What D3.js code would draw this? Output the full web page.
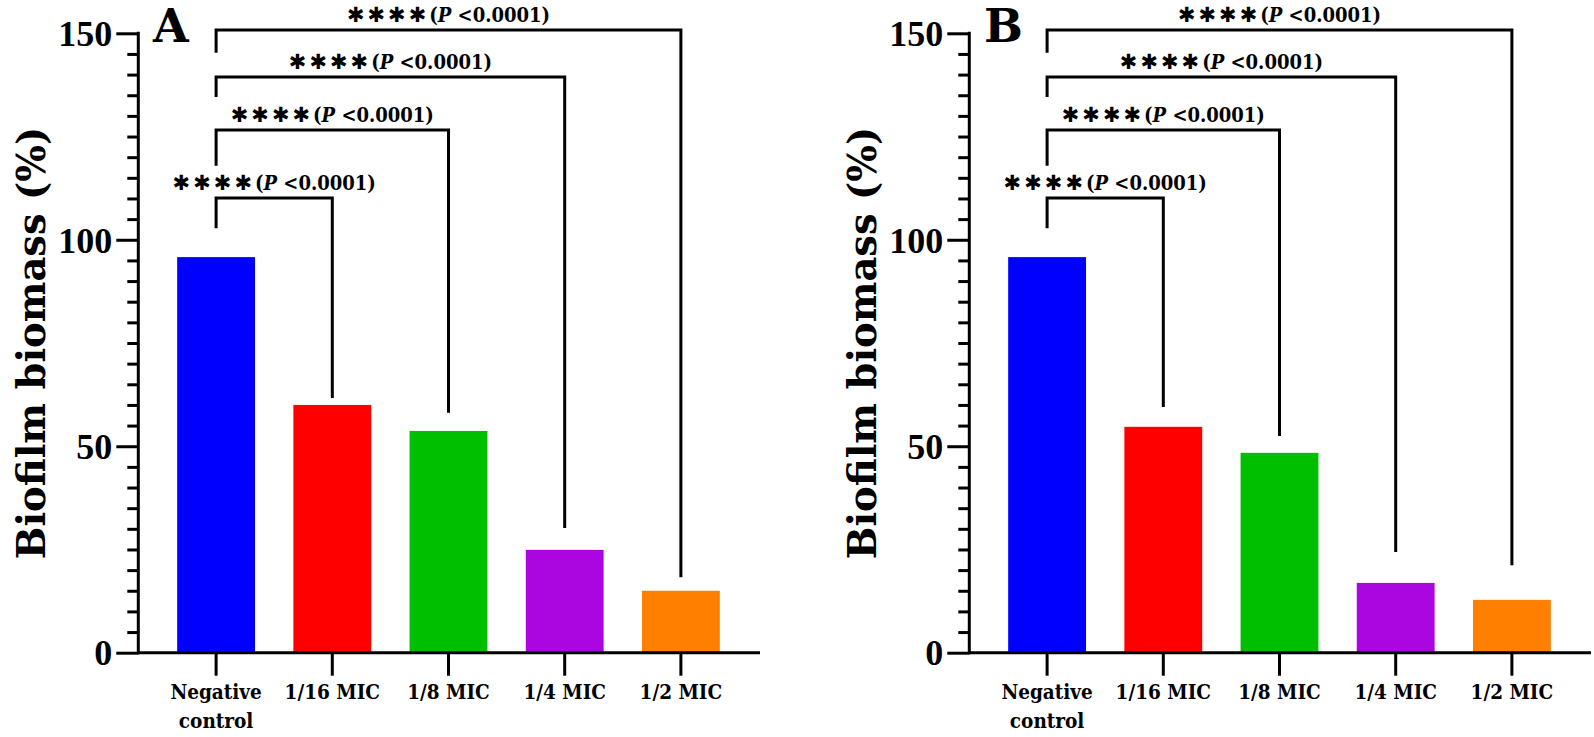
<!DOCTYPE html>
<html>
<head>
<meta charset="utf-8">
<script src="https://cdn.jsdelivr.net/npm/d3@7"></script>
<style>
  html, body { margin: 0; padding: 0; background: #ffffff; }
  svg { display: block; }
  .cond { font-family: "DejaVu Serif Condensed", "DejaVu Serif", serif; font-stretch: condensed; font-weight: bold; }
</style>
</head>
<body>
<svg id="chart" width="1594" height="737"></svg>
<script>
// ---------------- data ----------------
const categories = ["Negative control", "1/16 MIC", "1/8 MIC", "1/4 MIC", "1/2 MIC"];
const valuesA = [95.8, 60.0, 53.7, 24.9, 15.0];
const valuesB = [95.8, 54.7, 48.4, 16.9, 12.8];
const barColors = ["#0000ff", "#ff0000", "#00bf00", "#ab05e0", "#ff8000"];
const yTickValues = [0, 50, 100, 150];
const yTitle = "Biofilm biomass (%)";
const panelLabels = ["A", "B"];
// significance brackets: all versus "Negative control"
const bracketTargets = ["1/16 MIC", "1/8 MIC", "1/4 MIC", "1/2 MIC"];
const bracketLevels = [110.1, 126.6, 139.4, 150.8];
const bracketLeftEnds = [102.8, 117.9, 134.6, 145.3];
const bracketRightEndsA = [61.7, 58.1, 30.2, 18.3];
const bracketRightEndsB = [59.5, 52.5, 24.4, 21.2];
const sigStars = "✱✱✱✱";
const pSymbol = "P";
const pValueText = " <0.0001)";

// ---------------- drawing ----------------
const svg = d3.select("#chart");
svg.append("rect").attr("width", 1594).attr("height", 737).attr("fill", "#fff");

const panels = [
  { label: panelLabels[0], values: valuesA, rightEnds: bracketRightEndsA, offset: 0 },
  { label: panelLabels[1], values: valuesB, rightEnds: bracketRightEndsB, offset: 831 }
];

const y = d3.scaleLinear().domain([0, 150]).range([652.7, 33.3]);

panels.forEach(p => {
  const g = svg.append("g").attr("transform", `translate(${p.offset},0)`);
  const axisX = 138.3;
  const x = d3.scaleBand().domain(categories).range([158, 739])
    .paddingInner(0.33).paddingOuter(0.165);

  // bars
  g.selectAll("rect.bar").data(categories).enter().append("rect")
    .attr("class", "bar")
    .attr("x", d => x(d))
    .attr("width", x.bandwidth())
    .attr("y", (d, i) => y(p.values[i]))
    .attr("height", (d, i) => y(0) - y(p.values[i]))
    .attr("fill", (d, i) => barColors[i]);

  // minor y ticks
  const minor = d3.range(0, 151, 5).filter(v => v % 50 !== 0);
  const yMinor = g.append("g").attr("transform", `translate(${axisX},0)`)
    .call(d3.axisLeft(y).tickValues(minor).tickSize(11).tickFormat(""));
  yMinor.select(".domain").remove();
  yMinor.selectAll("line").attr("stroke", "#000").attr("stroke-width", 3);

  // major y axis
  const yAx = g.append("g").attr("transform", `translate(${axisX},0)`)
    .call(d3.axisLeft(y).tickValues(yTickValues).tickSize(22).tickPadding(4).tickSizeOuter(0));
  yAx.attr("font-size", 36).attr("font-family", "'Liberation Serif', serif");
  yAx.select(".domain").attr("stroke", "#000").attr("stroke-width", 3)
    .attr("d", `M0,${y(0) + 1.5}V${y(150) - 1.5}`);
  yAx.selectAll(".tick line").attr("stroke", "#000").attr("stroke-width", 3);
  yAx.selectAll(".tick text").attr("fill", "#000")
    .style("font-family", "'Liberation Serif', serif")
    .style("font-weight", "bold")
    .style("font-size", "36px").attr("dy", "0.34em");

  // x axis
  const xAx = g.append("g").attr("transform", `translate(0,${y(0)})`)
    .call(d3.axisBottom(x).tickSize(23).tickFormat("").tickSizeOuter(0));
  xAx.select(".domain").attr("stroke", "#000").attr("stroke-width", 3)
    .attr("d", `M${axisX},0H${739 + 21}`);
  xAx.selectAll(".tick line").attr("stroke", "#000").attr("stroke-width", 3);

  // x labels
  categories.forEach(c => {
    const words = c === "Negative control" ? ["Negative", "control"] : [c];
    const t = g.append("text").attr("class", "cond")
      .attr("text-anchor", "middle")
      .attr("x", x(c) + x.bandwidth() / 2)
      .attr("y", 699)
      .style("font-size", "20.5px").attr("fill", "#000");
    words.forEach((w, k) => {
      t.append("tspan").attr("x", x(c) + x.bandwidth() / 2).attr("dy", k === 0 ? 0 : 29).text(w);
    });
  });

  // y title
  g.append("text")
    .attr("transform", `translate(${axisX - 93},343) rotate(-90)`)
    .attr("text-anchor", "middle")
    .style("font-family", "'DejaVu Serif', serif").style("font-weight", "bold")
    .style("font-size", "38.5px").attr("fill", "#000")
    .text(yTitle);

  // panel label
  g.append("text").attr("x", 153).attr("y", 42)
    .style("font-family", "'DejaVu Serif', serif").style("font-weight", "bold")
    .style("font-size", "46px").attr("fill", "#000").text(p.label);

  // brackets
  const xc = d => x(d) + x.bandwidth() / 2;
  const x0 = xc(categories[0]);
  bracketTargets.forEach((tgt, i) => {
    const x1 = xc(tgt);
    const lvl = y(bracketLevels[i]);
    g.append("path")
      .attr("d", `M${x0},${y(bracketLeftEnds[i])}V${lvl}H${x1}V${y(p.rightEnds[i])}`)
      .attr("fill", "none").attr("stroke", "#000").attr("stroke-width", 3)
      .attr("stroke-linejoin", "miter");
    const t = g.append("text").attr("x", (x0 + x1) / 2).attr("y", lvl - 8)
      .attr("text-anchor", "middle").attr("fill", "#000");
    t.append("tspan")
      .style("font-family", "'DejaVu Sans', sans-serif").style("font-weight", "bold")
      .style("font-size", "21px").style("letter-spacing", "3px")
      .text(sigStars);
    t.append("tspan").attr("class", "cond").style("font-size", "20px").text("(");
    t.append("tspan").attr("class", "cond").style("font-size", "20px")
      .style("font-style", "italic").text(pSymbol);
    t.append("tspan").attr("class", "cond").style("font-size", "20px").text(pValueText);
  });
});
</script>
</body>
</html>
